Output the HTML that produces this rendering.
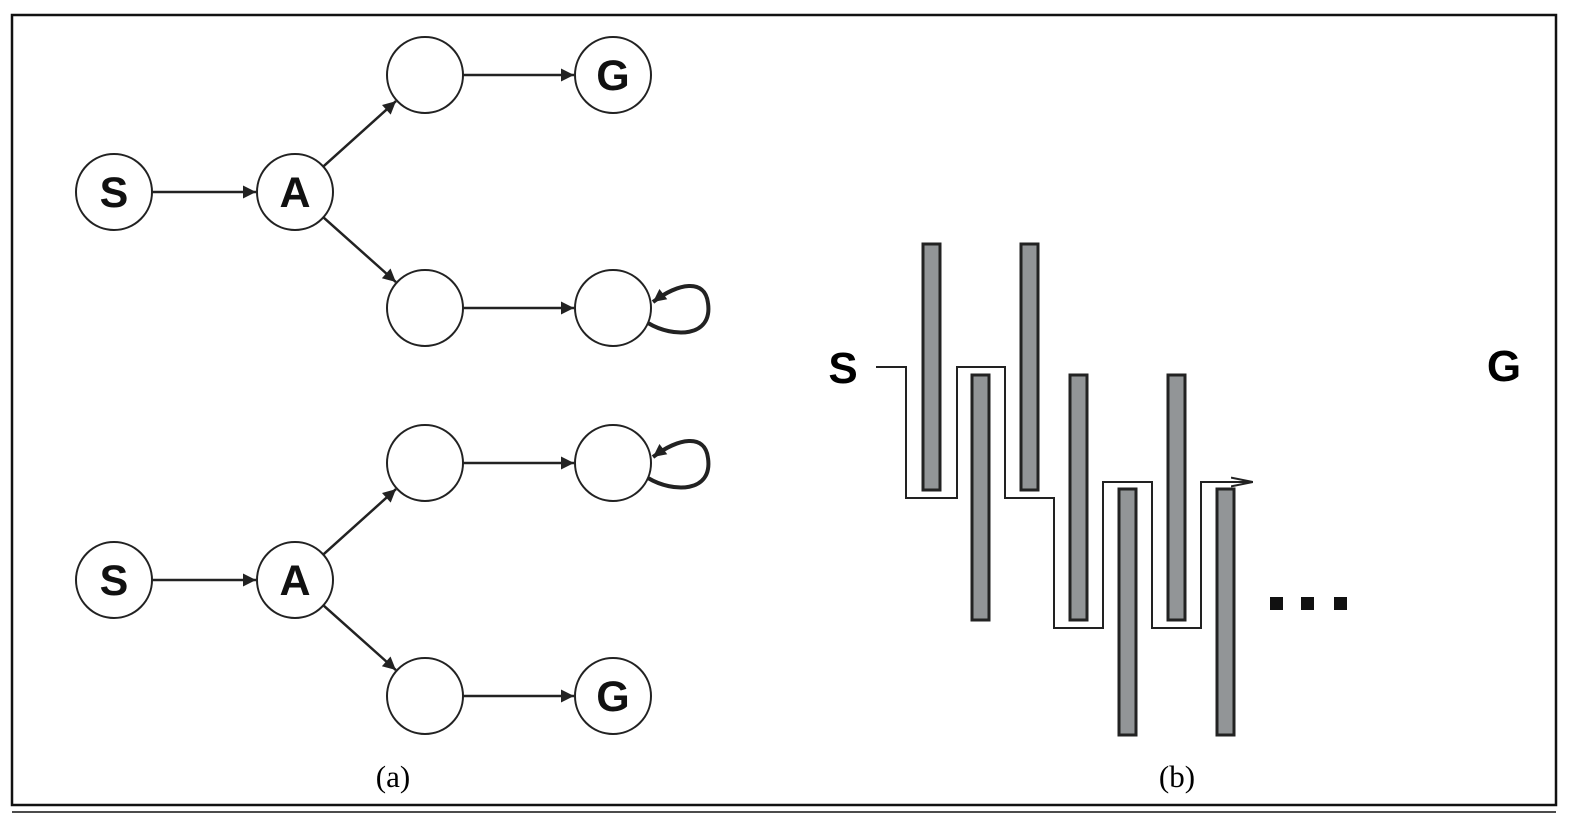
<!DOCTYPE html>
<html><head><meta charset="utf-8"><style>
html,body{margin:0;padding:0;background:#fff}
svg{display:block}
text{font-family:"Liberation Sans",sans-serif}
</style></head><body>
<svg width="1584" height="822" viewBox="0 0 1584 822">
<defs>
<marker id="ah2" viewBox="0 0 10 10" refX="10" refY="5" markerWidth="22" markerHeight="13" markerUnits="userSpaceOnUse" orient="auto"><path d="M0,0 L10,5 L0,10 z" fill="#222"/></marker>
<marker id="open" viewBox="0 0 20 10" refX="20" refY="5" markerWidth="22" markerHeight="11" markerUnits="userSpaceOnUse" orient="auto"><path d="M0,1 L20,5 L0,9" fill="none" stroke="#222" stroke-width="1.8"/></marker>
</defs>
<rect x="12" y="15" width="1544" height="790" fill="none" stroke="#111" stroke-width="2.5"/>
<line x1="12" y1="812" x2="1556" y2="812" stroke="#111" stroke-width="1.5"/>
<g id="ga" stroke="#222" fill="none"></g>
<text x="393" y="787" font-size="31" text-anchor="middle" style="font-family:'Liberation Serif',serif">(a)</text>
<text x="1177" y="787" font-size="31" text-anchor="middle" style="font-family:'Liberation Serif',serif">(b)</text>
<g>
<text x="843" y="383" font-size="44" font-weight="bold" text-anchor="middle">S</text>
<text x="1504" y="381" font-size="44" font-weight="bold" text-anchor="middle">G</text>
<g fill="#929597" stroke="#222" stroke-width="3">
<rect x="923" y="244" width="17" height="246"/>
<rect x="972" y="375" width="17" height="245"/>
<rect x="1021" y="244" width="17" height="246"/>
<rect x="1070" y="375" width="17" height="245"/>
<rect x="1119" y="489" width="17" height="246"/>
<rect x="1168" y="375" width="17" height="245"/>
<rect x="1217" y="489" width="17" height="246"/>
</g>
<path d="M876,367 H906 V498 H957 V367 H1005 V498 H1054 V628 H1103 V482 H1152 V628 H1201 V482 H1253" fill="none" stroke="#222" stroke-width="2" marker-end="url(#open)"/>
<g fill="#111">
<rect x="1270" y="597" width="13" height="13"/><rect x="1301" y="597" width="13" height="13"/><rect x="1334" y="597" width="13" height="13"/>
</g>
</g>
<script>
const g=document.getElementById('ga');
const NS='http://www.w3.org/2000/svg';
const R=38;
function mk(t,a){const e=document.createElementNS(NS,t);for(const k in a)e.setAttribute(k,a[k]);g.appendChild(e);return e;}
function graph(dy,topG,idx){
 const n={S:[114,192+dy],A:[295,192+dy],T:[425,75+dy],T2:[613,75+dy],B:[425,308+dy],B2:[613,308+dy]};
 for(const k in n){const c=mk('circle',{cx:n[k][0],cy:n[k][1],r:R,fill:'#fff','stroke-width':2});
  
  }
 const lab=(k,s)=>{const t=mk('text',{x:n[k][0],y:n[k][1]+15,'font-size':43,'font-weight':'bold','text-anchor':'middle',fill:'#111',stroke:'none'});t.textContent=s;
  
  };
 lab('S','S');lab('A','A');lab(topG?'T2':'B2','G');
 const edge=(a,b)=>{const [x1,y1]=n[a],[x2,y2]=n[b];const d=Math.hypot(x2-x1,y2-y1);const ux=(x2-x1)/d,uy=(y2-y1)/d;
  const l=mk('line',{x1:x1+ux*R,y1:y1+uy*R,x2:x2-ux*(R+1),y2:y2-uy*(R+1),'stroke-width':2.5,'marker-end':'url(#ah2)'});
  
  };
 edge('S','A');edge('A','T');edge('A','B');edge('T','T2');edge('B','B2');
 const lp=topG?'B2':'T2';const [cx,cy]=n[lp];
 const p=mk('path',{d:`M${cx+35},${cy+15} C${cx+60},${cy+30} ${cx+100},${cy+30} ${cx+95},${cy-5} C${cx+92},${cy-30} ${cx+65},${cy-25} ${cx+40},${cy-6}`,'stroke-width':4,'marker-end':'url(#ah2)'});
 
 
}
graph(0,true,1);
graph(388,false,2);
</script>
</svg>
</body></html>
